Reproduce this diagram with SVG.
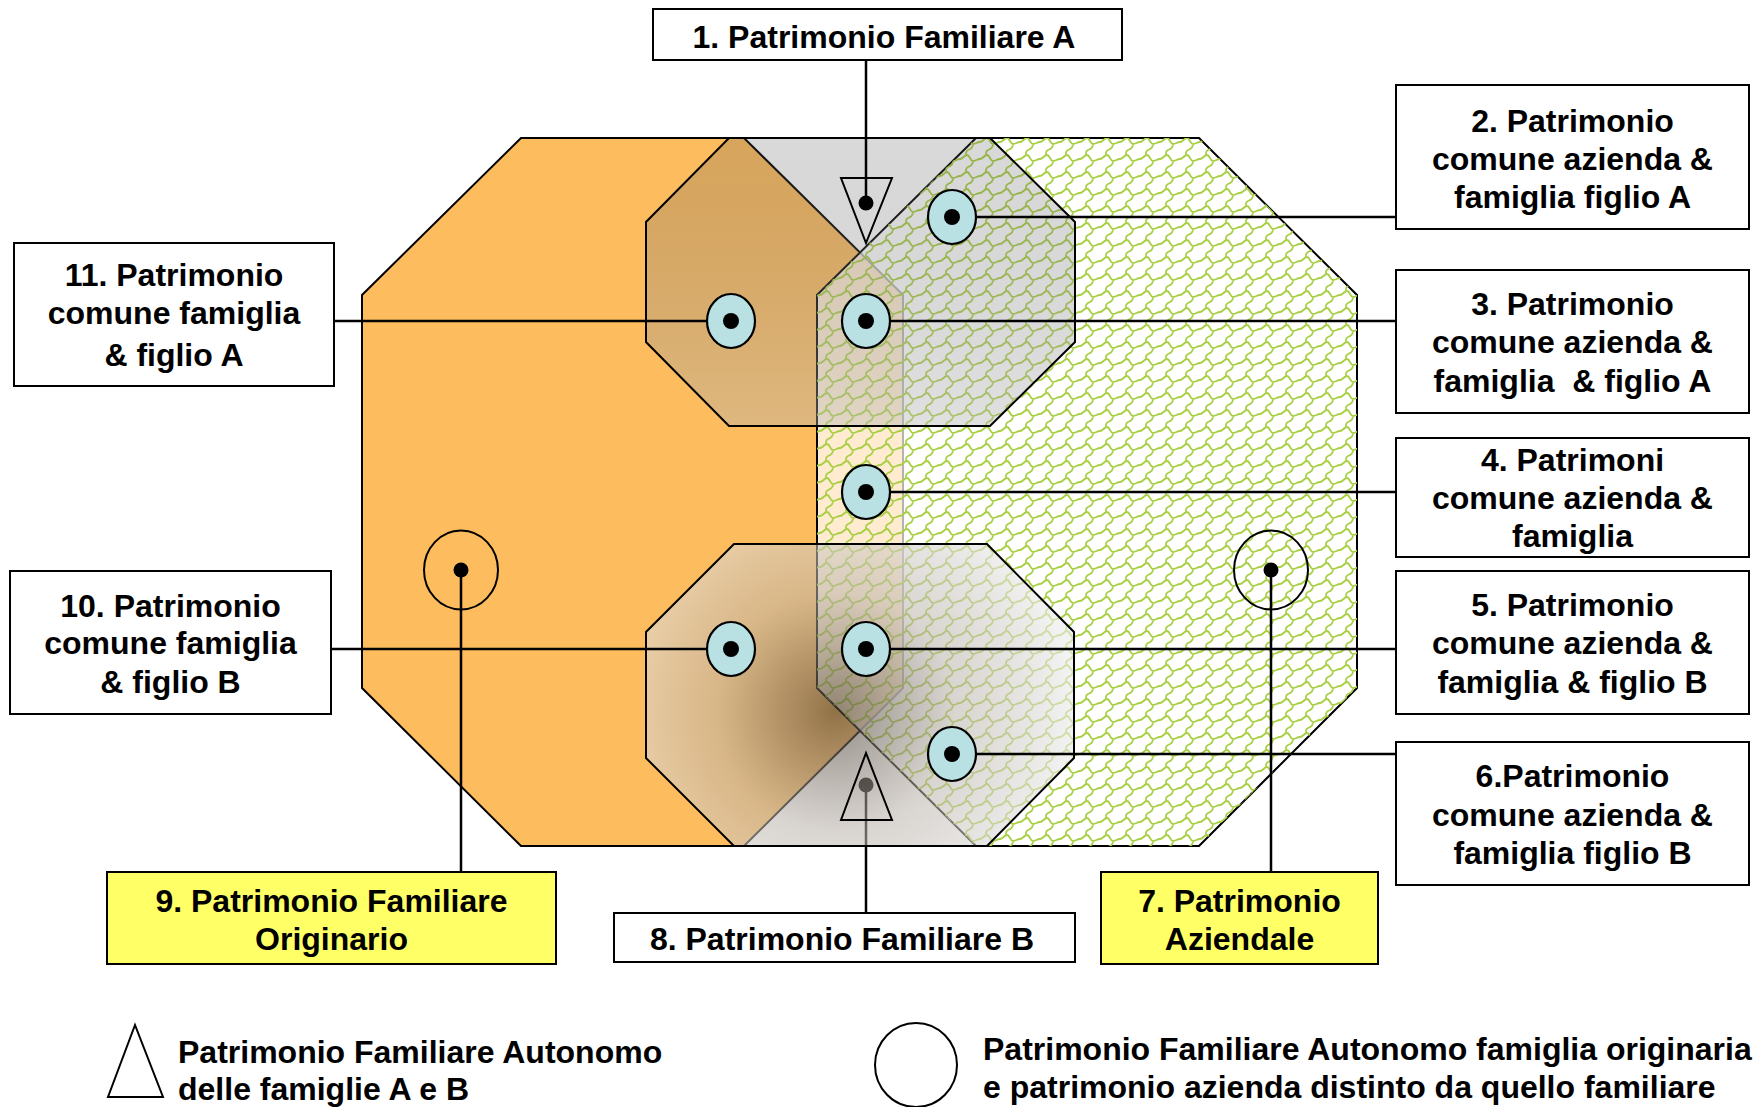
<svg xmlns="http://www.w3.org/2000/svg" width="1763" height="1107" viewBox="0 0 1763 1107">
<style>
.box{fill:#fff;stroke:#000;stroke-width:2}
.ybox{fill:#FFFF66;stroke:#000;stroke-width:2}
.lbl{font-family:"Liberation Sans",Arial,sans-serif;font-weight:bold;font-size:32px;text-anchor:middle;fill:#000}
.leg{font-family:"Liberation Sans",Arial,sans-serif;font-weight:bold;font-size:32px;text-anchor:start;fill:#000}
.conn{stroke:#000;stroke-width:2.5;fill:none}
.ring{fill:#B9E1E4;stroke:#000;stroke-width:2.2}
.open{fill:none;stroke:#000;stroke-width:2}
.tri{fill:none;stroke:#000;stroke-width:2}
.oct{stroke:#000;stroke-width:2;stroke-linejoin:miter}
</style>
<defs>
<pattern id="hatch" patternUnits="userSpaceOnUse" width="20" height="17">
<path d="M0,6 C3,6 4,2 7,2 C10,2 10,8 13,8 C16,8 17,6 20,6 M13,8 C13,11 11,13 8,14 C6,15 6,17 6,17 M6,0 C6,1 6.5,2 7,2" fill="none" stroke="#A9CF45" stroke-width="1.8"/>
</pattern>
<linearGradient id="gA" x1="0" y1="138" x2="0" y2="426" gradientUnits="userSpaceOnUse">
<stop offset="0" stop-color="#535353" stop-opacity="0.22"/>
<stop offset="1" stop-color="#B2B2B2" stop-opacity="0.4"/>
</linearGradient>
<radialGradient id="gB" cx="835" cy="712" r="240" gradientUnits="userSpaceOnUse">
<stop offset="0" stop-color="#4E4438" stop-opacity="0.62"/>
<stop offset="0.5" stop-color="#BAB2AA" stop-opacity="0.55"/>
<stop offset="1" stop-color="#EBEBEB" stop-opacity="0.62"/>
</radialGradient>
</defs>
<rect width="1763" height="1107" fill="#fff"/>

<g id="orange-octagon">
<polygon class="oct" fill="#FDBC5E" points="521,138 744,138 903,295 903,688 744,846 521,846 362,688 362,295"/>
</g>
<g id="hatch-octagon">
<polygon class="oct" fill="#fff" fill-opacity="0.7" points="976,138 1199,138 1357,295 1357,688 1199,846 976,846 817,688 817,295"/>
<polygon fill="url(#hatch)" points="976,138 1199,138 1357,295 1357,688 1199,846 976,846 817,688 817,295"/>
</g>

<g id="connector-8-under">
<line class="conn" x1="866" y1="785" x2="866" y2="913"/>
<circle cx="866" cy="785" r="7.5" fill="#000"/>
</g>

<g id="octagon-A">
<polygon class="oct" fill="url(#gA)" points="729,138 990,138 1075,222 1075,342 990,426 729,426 646,342 646,222"/>
</g>
<g id="octagon-B">
<polygon class="oct" fill="url(#gB)" points="734,544 987,544 1074,632 1074,758 987,846 734,846 646,758 646,632"/>
</g>

<g id="connectors">
<line class="conn" x1="866" y1="60" x2="866" y2="203"/>
<line class="conn" x1="952" y1="217" x2="1396" y2="217"/>
<line class="conn" x1="866" y1="321" x2="1396" y2="321"/>
<line class="conn" x1="866" y1="492" x2="1396" y2="492"/>
<line class="conn" x1="866" y1="649" x2="1396" y2="649"/>
<line class="conn" x1="952" y1="754" x2="1396" y2="754"/>
<line class="conn" x1="1271" y1="570" x2="1271" y2="872"/>
<line class="conn" x1="461" y1="570" x2="461" y2="872"/>
<line class="conn" x1="331" y1="649" x2="731" y2="649"/>
<line class="conn" x1="334" y1="321" x2="731" y2="321"/>
</g>

<g id="marker-tri-A">
<polygon class="tri" points="841,178 892,178 866,243"/>
<circle cx="866" cy="203" r="7.5" fill="#000"/>
</g>
<g id="marker-tri-B">
<polygon class="tri" points="866,753 841,820 892,820"/>
</g>
<g id="dot-2"><ellipse class="ring" cx="952" cy="217" rx="24" ry="27"/><circle cx="952" cy="217" r="8"/></g>
<g id="dot-3"><ellipse class="ring" cx="866" cy="321" rx="24" ry="27"/><circle cx="866" cy="321" r="8"/></g>
<g id="dot-4"><ellipse class="ring" cx="866" cy="492" rx="24" ry="27"/><circle cx="866" cy="492" r="8"/></g>
<g id="dot-5"><ellipse class="ring" cx="866" cy="649" rx="24" ry="27"/><circle cx="866" cy="649" r="8"/></g>
<g id="dot-6"><ellipse class="ring" cx="952" cy="754" rx="24" ry="27"/><circle cx="952" cy="754" r="8"/></g>
<g id="dot-10"><ellipse class="ring" cx="731" cy="649" rx="24" ry="27"/><circle cx="731" cy="649" r="8"/></g>
<g id="dot-11"><ellipse class="ring" cx="731" cy="321" rx="24" ry="27"/><circle cx="731" cy="321" r="8"/></g>
<g id="circle-9"><ellipse class="open" cx="461" cy="570" rx="37" ry="39.5"/><circle cx="461" cy="570" r="7.5"/></g>
<g id="circle-7"><ellipse class="open" cx="1271" cy="570" rx="37" ry="39.5"/><circle cx="1271" cy="570" r="7.5"/></g>

<g id="box-1"><rect class="box" x="653" y="9" width="469" height="51"/><text class="lbl" x="884" y="48">1. Patrimonio Familiare A</text></g>
<g id="box-2"><rect class="box" x="1396" y="85" width="353" height="144"/>
<text class="lbl" x="1572.5" y="131.5">2. Patrimonio</text><text class="lbl" x="1572.5" y="170">comune azienda &amp;</text><text class="lbl" x="1572.5" y="208">famiglia figlio A</text></g>
<g id="box-3"><rect class="box" x="1396" y="270" width="353" height="143"/>
<text class="lbl" x="1572.5" y="315">3. Patrimonio</text><text class="lbl" x="1572.5" y="353">comune azienda &amp;</text><text class="lbl" x="1572.5" y="392" xml:space="preserve">famiglia  &amp; figlio A</text></g>
<g id="box-4"><rect class="box" x="1396" y="438" width="353" height="119"/>
<text class="lbl" x="1572.5" y="470.5">4. Patrimoni</text><text class="lbl" x="1572.5" y="508.5">comune azienda &amp;</text><text class="lbl" x="1572.5" y="546.5">famiglia</text></g>
<g id="box-5"><rect class="box" x="1396" y="571" width="353" height="143"/>
<text class="lbl" x="1572.5" y="615.5">5. Patrimonio</text><text class="lbl" x="1572.5" y="654">comune azienda &amp;</text><text class="lbl" x="1572.5" y="692.5">famiglia &amp; figlio B</text></g>
<g id="box-6"><rect class="box" x="1396" y="742" width="353" height="143"/>
<text class="lbl" x="1572.5" y="787">6.Patrimonio</text><text class="lbl" x="1572.5" y="825.5">comune azienda &amp;</text><text class="lbl" x="1572.5" y="864">famiglia figlio B</text></g>
<g id="box-11"><rect class="box" x="14" y="243" width="320" height="143"/>
<text class="lbl" x="174" y="285.5">11. Patrimonio</text><text class="lbl" x="174" y="324">comune famiglia</text><text class="lbl" x="174" y="366">&amp; figlio A</text></g>
<g id="box-10"><rect class="box" x="10" y="571" width="321" height="143"/>
<text class="lbl" x="170.5" y="616.5">10. Patrimonio</text><text class="lbl" x="170.5" y="654">comune famiglia</text><text class="lbl" x="170.5" y="692.5">&amp; figlio B</text></g>
<g id="box-9"><rect class="ybox" x="107" y="872" width="449" height="92"/>
<text class="lbl" x="331.5" y="912">9. Patrimonio Familiare</text><text class="lbl" x="331.5" y="949.5">Originario</text></g>
<g id="box-8"><rect class="box" x="614" y="913" width="461" height="49"/>
<text class="lbl" x="842" y="950">8. Patrimonio Familiare B</text></g>
<g id="box-7"><rect class="ybox" x="1101" y="872" width="277" height="92"/>
<text class="lbl" x="1239.5" y="912">7. Patrimonio</text><text class="lbl" x="1239.5" y="949.5">Aziendale</text></g>

<g id="legend-triangle">
<polygon class="tri" points="135,1025 108,1097 163,1097"/>
<text class="leg" x="178" y="1062.5">Patrimonio Familiare Autonomo</text>
<text class="leg" x="178" y="1100">delle famiglie A e B</text>
</g>
<g id="legend-circle">
<ellipse class="open" cx="916" cy="1065" rx="41" ry="42"/>
<text class="leg" x="983" y="1060">Patrimonio Familiare Autonomo famiglia originaria</text>
<text class="leg" x="983" y="1098">e patrimonio azienda distinto da quello familiare</text>
</g>
</svg>
